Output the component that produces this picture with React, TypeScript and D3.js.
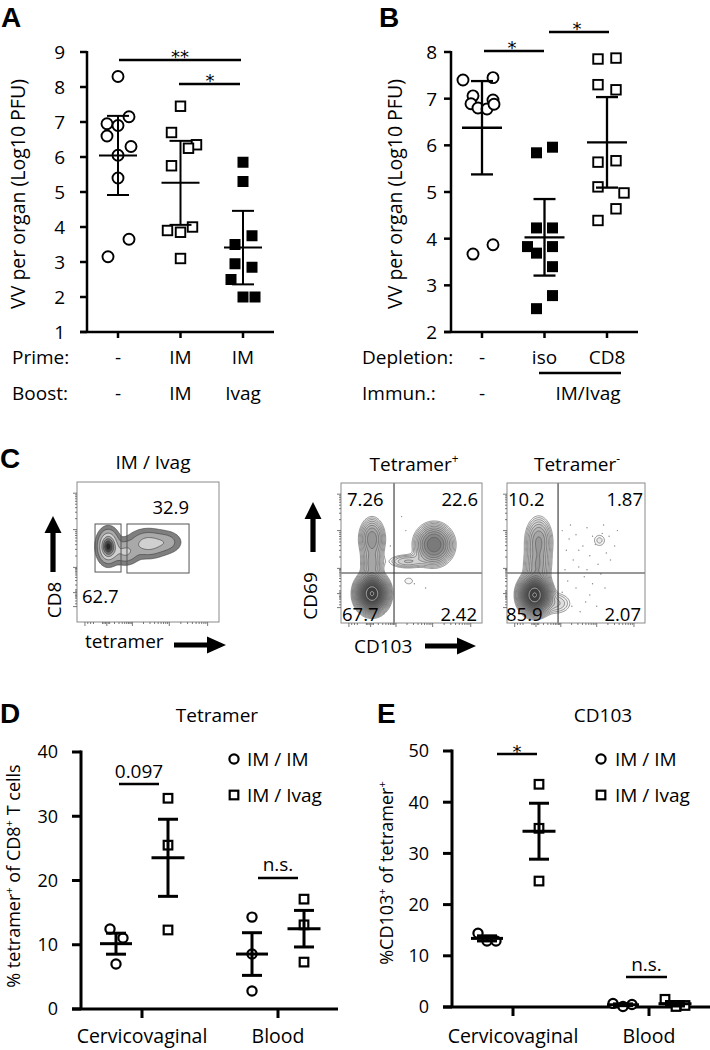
import React from "react";
import * as d3 from "d3";

const FONT = "'Open Sans', Lato, 'DejaVu Sans', sans-serif";
const BOLD = "'Liberation Sans', Arial, sans-serif";

// ---------------- Panel A data ----------------
const aGroups = ["none", "imim", "imivag"];
const aPrime = ["-", "IM", "IM"];
const aBoost = ["-", "IM", "Ivag"];
const aNone = [8.3, 7.15, 6.95, 6.9, 6.6, 6.3, 6.05, 5.4, 3.65, 3.15];
const aImIm = [7.45, 6.7, 6.35, 6.25, 5.75, 4.0, 3.9, 3.85, 3.1];
const aImIvag = [5.85, 5.3, 3.75, 3.5, 2.95, 2.85, 2.5, 2.0, 2.0];
const aCI95 = [1.13, 1.2, 1.05];
const aYTicks = [1, 2, 3, 4, 5, 6, 7, 8, 9];
const aSigLabels = ["**", "*"];
// jitter (layout, px)
const aJitter = [
  [0, 11, -11, 0, -11, 13, 0, 0, 11, -10],
  [0, -9, 16, 8, -9, 12, -13, 0, 0],
  [0, 0, 9, -8, -8, 9, -12, 0, 12],
];

// ---------------- Panel B data ----------------
const bGroups = ["none", "iso", "cd8"];
const bDepletion = ["-", "iso", "CD8"];
const bImmun = ["-", "IM/Ivag"];
const bNone = [7.4, 7.45, 7.06, 6.97, 6.89, 6.8, 6.78, 6.88, 3.67, 3.87];
const bIso = [5.84, 5.96, 4.23, 4.23, 3.83, 3.69, 3.83, 3.4, 2.78, 2.5];
const bCD8 = [7.85, 7.87, 7.3, 7.19, 5.64, 5.67, 5.11, 4.98, 4.64, 4.39];
const bCI95 = [1.0, 0.82, 0.97];
const bYTicks = [2, 3, 4, 5, 6, 7, 8];
const bSigLabels = ["*", "*"];
const bJitter = [
  [-19, 11, -9, 11, -11, -4, 5, 12, -9, 11],
  [-8, 8, -8, 8, -17, -8, 8, 8, 8, -8],
  [-9, 9, -9, 9, -9, 9, -9, 17, 9, -9],
];

// ---------------- Panel C data ----------------
const cTitles = ["IM / Ivag", "Tetramer", "Tetramer"];
const cGatePercents = ["32.9", "62.7"];
const cTetPosPercents = ["7.26", "22.6", "67.7", "2.42"];
const cTetNegPercents = ["10.2", "1.87", "85.9", "2.07"];
// populations: [meanX, meanY, sdX, sdY, weight] in axis units 0..1
const cImIvagPops = [
  [0.22, 0.54, 0.036, 0.057, 1],
  [0.5, 0.56, 0.07, 0.049, 0.36],
  [0.34, 0.5, 0.05, 0.045, 0.28],
  [0.63, 0.57, 0.055, 0.04, 0.16],
];
const cTetPosPops = [
  [0.22, 0.21, 0.05, 0.06, 1],
  [0.22, 0.6, 0.045, 0.075, 0.12],
  [0.22, 0.42, 0.04, 0.06, 0.08],
  [0.66, 0.56, 0.065, 0.07, 0.22],
  [0.47, 0.44, 0.08, 0.03, 0.04],
  [0.48, 0.3, 0.04, 0.03, 0.015],
];
const cTetNegPops = [
  [0.2, 0.2, 0.05, 0.06, 1],
  [0.23, 0.58, 0.05, 0.09, 0.1],
  [0.22, 0.4, 0.05, 0.07, 0.08],
  [0.36, 0.14, 0.07, 0.05, 0.03],
  [0.67, 0.59, 0.04, 0.04, 0.018],
];
const cTetPosEvents = [
  [0.12, 0.3], [0.43, 0.76], [0.46, 0.66], [0.52, 0.28], [0.6, 0.25], [0.35, 0.55],
];
const cTetNegEvents = [
  [0.4, 0.66], [0.45, 0.6], [0.43, 0.52], [0.5, 0.63], [0.48, 0.45], [0.55, 0.55],
  [0.58, 0.68], [0.52, 0.4], [0.6, 0.48], [0.62, 0.62], [0.7, 0.7], [0.74, 0.62],
  [0.72, 0.5], [0.78, 0.55], [0.66, 0.42], [0.44, 0.3], [0.5, 0.25], [0.56, 0.33],
  [0.6, 0.2], [0.47, 0.12], [0.53, 0.08], [0.62, 0.28], [0.68, 0.35], [0.57, 0.15],
  [0.42, 0.38], [0.64, 0.56], [0.69, 0.64], [0.75, 0.45], [0.8, 0.66], [0.46, 0.7],
  [0.4, 0.22], [0.58, 0.38], [0.52, 0.52], [0.65, 0.12], [0.71, 0.25],
];
const cImIvagGates = [
  [0.127, 0.357, 0.31, 0.7],
  [0.352, 0.35, 0.789, 0.7],
];
const cQuadrant = [0.376, 0.357];
const cQuadrantNeg = [0.37, 0.357];
const cMajorX = [0.056, 0.21, 0.39, 0.65, 0.92];
const cMajorY = [0.11, 0.21, 0.39, 0.66, 0.92];

// ---------------- Panel D data ----------------
const dCategories = ["Cervicovaginal", "Blood"];
const dImIm = [[12.45, 11.05, 7.0], [14.3, 8.56, 2.8]];
const dImIvag = [[32.8, 25.5, 12.3], [17.1, 13.1, 7.3]];
const dYTicks = [0, 10, 20, 30, 40];
const dSigLabels = ["0.097", "n.s."];
const dJitterImIm = [[-6, 7, 0], [0, 0, 0]];
const dJitterImIvag = [[0, 0, 0], [0, 0, 0]];

// ---------------- Panel E data ----------------
const eCategories = ["Cervicovaginal", "Blood"];
const eImIm = [[14.4, 12.9, 12.9], [0.7, 0.1, 0.5]];
const eImIvag = [[43.5, 34.9, 24.6], [1.5, 0.1, 0.3]];
const eYTicks = [0, 10, 20, 30, 40, 50];
const eSigLabels = ["*", "n.s."];
const eJitterImIm = [[-9, 0, 9], [-10, 0, 9]];
const eJitterImIvag = [[0, 0, 0], [-10, 1, 10]];

const legendLabels = ["IM / IM", "IM / Ivag"];

// ---------------- helpers ----------------
function Marker({ shape, x, y, size, sw }: any) {
  if (shape === "circle")
    return <circle cx={x} cy={y} r={size / 2} fill="#fff" stroke="#000" strokeWidth={sw} />;
  if (shape === "square")
    return <rect x={x - size / 2} y={y - size / 2} width={size} height={size} fill="#fff" stroke="#000" strokeWidth={sw} />;
  return <rect x={x - size / 2} y={y - size / 2} width={size} height={size} fill="#000" />;
}

function ErrBar({ mean, err, cx, y, meanHalf, capHalf, sw }: any) {
  const m = y(mean), lo = y(mean - err), hi = y(mean + err);
  return (
    <g stroke="#000" strokeWidth={sw}>
      <line x1={cx} x2={cx} y1={lo} y2={hi} />
      <line x1={cx - capHalf} x2={cx + capHalf} y1={lo} y2={lo} />
      <line x1={cx - capHalf} x2={cx + capHalf} y1={hi} y2={hi} />
      <line x1={cx - meanHalf} x2={cx + meanHalf} y1={m} y2={m} />
    </g>
  );
}

function sem(v: number[]) {
  return (d3.deviation(v) as number) / Math.sqrt(v.length);
}

function Sup({ children }: any) {
  return (
    <tspan baselineShift="super" fontSize="0.62em">
      {children}
    </tspan>
  );
}

function Star({ x, y, label }: any) {
  return (
    <text x={x} y={y} textAnchor="middle" fontSize={18} fontFamily="'DejaVu Sans', sans-serif">{label}</text>
  );
}

function ArrowUp({ cx, bottom, tip }: any) {
  const hw = 2.6, hh = 8.5, hl = 17;
  const d = `M${cx - hw},${bottom} L${cx - hw},${tip + hl} L${cx - hh},${tip + hl} L${cx},${tip} L${cx + hh},${tip + hl} L${cx + hw},${tip + hl} L${cx + hw},${bottom} Z`;
  return <path d={d} fill="#000" />;
}
function ArrowRight({ cy, left, tip }: any) {
  const hw = 2.6, hh = 8.5, hl = 19;
  const d = `M${left},${cy - hw} L${tip - hl},${cy - hw} L${tip - hl},${cy - hh} L${tip},${cy} L${tip - hl},${cy + hh} L${tip - hl},${cy + hw} L${left},${cy + hw} Z`;
  return <path d={d} fill="#000" />;
}

// ---------------- Panel A ----------------
function PanelA() {
  const y = d3.scaleLinear().domain([1, 9]).range([332, 52]);
  const x = d3.scalePoint<string>().domain(aGroups).range([118, 243]);
  const groups = [aNone, aImIm, aImIvag];
  const shapes = ["circle", "square", "filled"];
  const axisX = 87;
  return (
    <g>
      <text x={1} y={27} fontFamily={BOLD} fontWeight="bold" fontSize={28}>A</text>
      <text transform={`translate(25,194) rotate(-90)`} textAnchor="middle" fontSize={19.5}>VV per organ (Log10 PFU)</text>
      <g stroke="#000" strokeWidth={2.5}>
        <line x1={axisX} x2={axisX} y1={y(9) - 1} y2={y(1)} />
        <line x1={80} x2={274} y1={y(1)} y2={y(1)} />
        {aYTicks.map((t) => <line key={t} x1={80} x2={axisX} y1={y(t)} y2={y(t)} />)}
        {aGroups.map((g) => <line key={g} x1={x(g)} x2={x(g)} y1={y(1)} y2={y(1) + 6} />)}
      </g>
      {aYTicks.map((t) => (
        <text key={t} x={65} y={y(t)} dy="0.36em" textAnchor="end" fontSize={19}>{t}</text>
      ))}
      {groups.map((vals, gi) => (
        <g key={gi}>
          {vals.map((v, i) => (
            <Marker key={i} shape={shapes[gi]} x={(x(aGroups[gi]) as number) + aJitter[gi][i]} y={y(v)}
              size={shapes[gi] === "circle" ? 11 : shapes[gi] === "square" ? 9.5 : 11} sw={1.9} />
          ))}
          <ErrBar mean={d3.mean(vals)} err={aCI95[gi]} cx={x(aGroups[gi])} y={y} meanHalf={19} capHalf={11} sw={2} />
        </g>
      ))}
      <g stroke="#000" strokeWidth={2.5}>
        <line x1={119} x2={241} y1={60} y2={60} />
        <line x1={179} x2={240} y1={84} y2={84} />
      </g>
      <Star x={180} y={63} label={aSigLabels[0]} />
      <Star x={210} y={87} label={aSigLabels[1]} />
      <text x={12} y={364} fontSize={19}>Prime:</text>
      <text x={12} y={400} fontSize={19}>Boost:</text>
      {aGroups.map((g, i) => (
        <g key={g}>
          <text x={x(g)} y={364} textAnchor="middle" fontSize={19}>{aPrime[i]}</text>
          <text x={x(g)} y={400} textAnchor="middle" fontSize={19}>{aBoost[i]}</text>
        </g>
      ))}
    </g>
  );
}

// ---------------- Panel B ----------------
function PanelB() {
  const y = d3.scaleLinear().domain([2, 8]).range([332, 52]);
  const x = d3.scalePoint<string>().domain(bGroups).range([482, 607]);
  const groups = [bNone, bIso, bCD8];
  const shapes = ["circle", "filled", "square"];
  const axisX = 451;
  return (
    <g>
      <text x={379} y={27} fontFamily={BOLD} fontWeight="bold" fontSize={28}>B</text>
      <text transform={`translate(402,194) rotate(-90)`} textAnchor="middle" fontSize={19.5}>VV per organ (Log10 PFU)</text>
      <g stroke="#000" strokeWidth={2.5}>
        <line x1={axisX} x2={axisX} y1={y(8) - 1} y2={y(2)} />
        <line x1={444} x2={638} y1={y(2)} y2={y(2)} />
        {bYTicks.map((t) => <line key={t} x1={444} x2={axisX} y1={y(t)} y2={y(t)} />)}
        {bGroups.map((g) => <line key={g} x1={x(g)} x2={x(g)} y1={y(2)} y2={y(2) + 6} />)}
      </g>
      {bYTicks.map((t) => (
        <text key={t} x={437} y={y(t)} dy="0.36em" textAnchor="end" fontSize={19}>{t}</text>
      ))}
      {groups.map((vals, gi) => (
        <g key={gi}>
          {vals.map((v, i) => (
            <Marker key={i} shape={shapes[gi]} x={(x(bGroups[gi]) as number) + bJitter[gi][i]} y={y(v)}
              size={shapes[gi] === "circle" ? 11 : shapes[gi] === "square" ? 9.5 : 11} sw={1.9} />
          ))}
          <ErrBar mean={d3.mean(vals)} err={bCI95[gi]} cx={x(bGroups[gi])} y={y} meanHalf={20} capHalf={11} sw={2.3} />
        </g>
      ))}
      <g stroke="#000" strokeWidth={2.5}>
        <line x1={484} x2={544} y1={51} y2={51} />
        <line x1={549} x2={609} y1={32} y2={32} />
      </g>
      <Star x={512} y={54} label={bSigLabels[0]} />
      <Star x={577} y={35} label={bSigLabels[1]} />
      <text x={362} y={364} fontSize={19}>Depletion:</text>
      <text x={362} y={400} fontSize={19}>Immun.:</text>
      {bGroups.map((g, i) => (
        <text key={g} x={x(g)} y={364} textAnchor="middle" fontSize={19}>{bDepletion[i]}</text>
      ))}
      <line x1={539} x2={621} y1={373} y2={373} stroke="#000" strokeWidth={2.5} />
      <text x={x("none")} y={400} textAnchor="middle" fontSize={19}>{bImmun[0]}</text>
      <text x={588} y={400} textAnchor="middle" fontSize={19}>{bImmun[1]}</text>
    </g>
  );
}

// ---------------- Flow plot ----------------
const GRID = 120;
function densityContours(pops: number[][], levels: number[]) {
  const values: number[] = new Array(GRID * GRID);
  for (let j = 0; j < GRID; j++) {
    const v = 1 - (j + 0.5) / GRID;
    for (let i = 0; i < GRID; i++) {
      const u = (i + 0.5) / GRID;
      let s = 0;
      for (const p of pops) {
        const dx = (u - p[0]) / p[2], dy = (v - p[1]) / p[3];
        s += p[4] * Math.exp(-0.5 * (dx * dx + dy * dy));
      }
      values[j * GRID + i] = s;
    }
  }
  const max = d3.max(values) as number;
  return d3.contours().size([GRID, GRID]).thresholds(levels.map((l) => l * max))(values);
}

const zebraLevels = [0.03, 0.1, 0.25, 0.45, 0.62, 0.78, 0.92];
const zebraFills = ["#7f7f7f", "#a9a9a9", "#d0d0d0", "#a3a3a3", "#777777", "#4a4a4a", "#262626"];
const lineLevels = d3.range(16).map((i) => 0.012 * Math.pow(0.97 / 0.012, i / 15));

function minorTicks(major: number[]) {
  const out: number[] = [];
  for (let k = 2; k < major.length - 1; k++) {
    const a = major[k], b = major[k + 1];
    for (let m = 2; m <= 9; m++) out.push(a + (b - a) * Math.log10(m));
  }
  const a = major[1], b = major[2];
  for (let m = 2; m <= 9; m++) out.push(a + (b - a) * Math.log10(m));
  const z = major[1];
  [-0.03, -0.02, -0.01, 0.01, 0.02].forEach((d) => out.push(z + d));
  const n = major[0];
  [0.02, 0.04, 0.06].forEach((d) => out.push(n + d));
  return out;
}

function FlowPlot({ x0, y0, w, h, pops, mode, quadrant, gates, events }: any) {
  const xs = d3.scaleLinear().domain([0, 1]).range([x0, x0 + w]);
  const ys = d3.scaleLinear().domain([0, 1]).range([y0 + h, y0]);
  const levels = mode === "zebra" ? zebraLevels : lineLevels;
  const contours = densityContours(pops, levels);
  const proj = d3.geoTransform({
    point: function (this: any, px: number, py: number) {
      this.stream.point(x0 + (px * w) / GRID, y0 + (py * h) / GRID);
    },
  });
  const path = d3.geoPath(proj);
  const minX = minorTicks(cMajorX), minY = minorTicks(cMajorY);
  const n = contours.length;
  return (
    <g>
      {contours.map((c, i) =>
        mode === "zebra" ? (
          <path key={i} d={path(c as any) || ""} fill={zebraFills[i]} stroke="#3a3a3a" strokeWidth={0.6} />
        ) : (
          <path key={i} d={path(c as any) || ""} fill="#000" fillOpacity={0.035 + 0.11 * (i / (n - 1))}
            stroke={i > n - 3 ? "#ddd" : "#555"} strokeWidth={0.6} />
        )
      )}
      {(events || []).map((e: number[], i: number) => (
        <circle key={i} cx={xs(e[0])} cy={ys(e[1])} r={0.7} fill="#888" />
      ))}
      {quadrant && (
        <g stroke="#333" strokeWidth={1.1}>
          <line x1={xs(quadrant[0])} x2={xs(quadrant[0])} y1={y0} y2={y0 + h} />
          <line x1={x0} x2={x0 + w} y1={ys(quadrant[1])} y2={ys(quadrant[1])} />
        </g>
      )}
      {(gates || []).map((g: number[], i: number) => (
        <rect key={i} x={xs(g[0])} y={ys(g[3])} width={xs(g[2]) - xs(g[0])} height={ys(g[1]) - ys(g[3])}
          fill="none" stroke="#555" strokeWidth={1} />
      ))}
      <rect x={x0} y={y0} width={w} height={h} fill="none" stroke="#8a8a8a" strokeWidth={1} />
      <g stroke="#555" strokeWidth={0.8}>
        {cMajorY.map((t, i) => <line key={"ym" + i} x1={x0 - 4} x2={x0} y1={ys(t)} y2={ys(t)} />)}
        {minY.map((t, i) => <line key={"yn" + i} x1={x0 - 2} x2={x0} y1={ys(t)} y2={ys(t)} />)}
        {cMajorX.map((t, i) => <line key={"xm" + i} x1={xs(t)} x2={xs(t)} y1={y0 + h} y2={y0 + h + 4} />)}
        {minX.map((t, i) => <line key={"xn" + i} x1={xs(t)} x2={xs(t)} y1={y0 + h} y2={y0 + h + 2} />)}
      </g>
    </g>
  );
}

function PanelC() {
  const fs = 18.5;
  return (
    <g>
      <text x={0} y={468} fontFamily={BOLD} fontWeight="bold" fontSize={28}>C</text>
      <text x={153} y={469} textAnchor="middle" fontSize={19}>{cTitles[0]}</text>
      <text x={414} y={471} textAnchor="middle" fontSize={19}>{cTitles[1]}<Sup>+</Sup></text>
      <text x={577} y={471} textAnchor="middle" fontSize={19}>{cTitles[2]}<Sup>-</Sup></text>

      <FlowPlot x0={77} y0={482} w={142} h={140} pops={cImIvagPops} mode="zebra" gates={cImIvagGates} />
      <text x={189} y={514} textAnchor="end" fontSize={fs}>{cGatePercents[0]}</text>
      <text x={82} y={603} fontSize={fs}>{cGatePercents[1]}</text>
      <ArrowUp cx={53} bottom={572} tip={516} />
      <text transform="translate(61,600) rotate(-90)" textAnchor="middle" fontSize={19}>CD8</text>
      <text x={85} y={648} fontSize={19}>tetramer</text>
      <ArrowRight cy={645} left={174} tip={226} />

      <FlowPlot x0={341} y0={483} w={141} h={140} pops={cTetPosPops} mode="lines" quadrant={cQuadrant} events={cTetPosEvents} />
      <text x={347} y={506} fontSize={fs}>{cTetPosPercents[0]}</text>
      <text x={478} y={506} textAnchor="end" fontSize={fs}>{cTetPosPercents[1]}</text>
      <text x={342} y={621} fontSize={fs}>{cTetPosPercents[2]}</text>
      <text x={477} y={621} textAnchor="end" fontSize={fs}>{cTetPosPercents[3]}</text>

      <FlowPlot x0={507} y0={483} w={138} h={140} pops={cTetNegPops} mode="lines" quadrant={cQuadrantNeg} events={cTetNegEvents} />
      <text x={508} y={506} fontSize={fs}>{cTetNegPercents[0]}</text>
      <text x={643} y={506} textAnchor="end" fontSize={fs}>{cTetNegPercents[1]}</text>
      <text x={506} y={621} fontSize={fs}>{cTetNegPercents[2]}</text>
      <text x={641} y={621} textAnchor="end" fontSize={fs}>{cTetNegPercents[3]}</text>

      <ArrowUp cx={313} bottom={552} tip={502} />
      <text transform="translate(317,596) rotate(-90)" textAnchor="middle" fontSize={19}>CD69</text>
      <text x={354} y={653} fontSize={19}>CD103</text>
      <ArrowRight cy={646} left={425} tip={476} />
    </g>
  );
}

// ---------------- Panels D & E ----------------
function Legend({ x, y1, y2, tx }: any) {
  return (
    <g>
      <circle cx={x} cy={y1} r={4.6} fill="#fff" stroke="#000" strokeWidth={2.2} />
      <text x={tx} y={y1 + 7} fontSize={19}>{legendLabels[0]}</text>
      <rect x={x - 4.3} y={y2 - 4.3} width={8.6} height={8.6} fill="#fff" stroke="#000" strokeWidth={2.2} />
      <text x={tx} y={y2 + 7} fontSize={19}>{legendLabels[1]}</text>
    </g>
  );
}

function GroupedPanel({ letter, letterX, letterY, title, titleX, axisX, xStart, xEnd, y, yTicks, cats, catRange, imim, imivag, jImIm, jImIvag, yLabel, yLabelX, yLabelY, yLabelSize, legendX, legendTx, sigs }: any) {
  const x = d3.scalePoint<string>().domain(cats).range(catRange);
  const y0 = y(0);
  return (
    <g>
      <text x={letterX} y={letterY} fontFamily={BOLD} fontWeight="bold" fontSize={28}>{letter}</text>
      <text x={titleX} y={722} textAnchor="middle" fontSize={19}>{title}</text>
      <text transform={`translate(${yLabelX},${yLabelY}) rotate(-90)`} textAnchor="middle" fontSize={yLabelSize}>{yLabel}</text>
      <g stroke="#000" strokeWidth={3}>
        <line x1={axisX} x2={axisX} y1={y(yTicks[yTicks.length - 1]) - 1.5} y2={y0} />
        <line x1={xStart} x2={xEnd} y1={y0} y2={y0} />
        {yTicks.map((t: number) => <line key={t} x1={xStart} x2={axisX} y1={y(t)} y2={y(t)} />)}
        {cats.map((c: string) => <line key={c} x1={x(c)} x2={x(c)} y1={y0} y2={y0 + 9} />)}
      </g>
      {yTicks.map((t: number) => (
        <text key={t} x={axisX - 23} y={y(t)} dy="0.36em" textAnchor="end" fontSize={18}>{t}</text>
      ))}
      {cats.map((c: string) => (
        <text key={c} x={x(c)} y={1043} textAnchor="middle" fontSize={19.5}>{c}</text>
      ))}
      {cats.map((c: string, ci: number) => {
        const cx1 = (x(c) as number) - 26, cx2 = (x(c) as number) + 26;
        return (
          <g key={c}>
            {imim[ci].map((v: number, i: number) => (
              <Marker key={"a" + i} shape="circle" x={cx1 + jImIm[ci][i]} y={y(v)} size={9.2} sw={2.2} />
            ))}
            {imivag[ci].map((v: number, i: number) => (
              <Marker key={"b" + i} shape="square" x={cx2 + jImIvag[ci][i]} y={y(v)} size={8.6} sw={2.2} />
            ))}
            <ErrBar mean={d3.mean(imim[ci])} err={sem(imim[ci])} cx={cx1} y={y} meanHalf={16} capHalf={10} sw={3} />
            <ErrBar mean={d3.mean(imivag[ci])} err={sem(imivag[ci])} cx={cx2} y={y} meanHalf={16.5} capHalf={10} sw={3} />
          </g>
        );
      })}
      <Legend x={legendX} y1={759} y2={795} tx={legendTx} />
      {sigs.map((s: any, i: number) => (
        <g key={i}>
          <line x1={s.x1} x2={s.x2} y1={s.y} y2={s.y} stroke="#000" strokeWidth={2.6} />
          {s.star ? (
            <Star x={(s.x1 + s.x2) / 2} y={s.ty} label={s.label} />
          ) : (
            <text x={(s.x1 + s.x2) / 2} y={s.ty} textAnchor="middle" fontSize={19}>{s.label}</text>
          )}
        </g>
      ))}
    </g>
  );
}

function PanelD() {
  const y = d3.scaleLinear().domain([0, 40]).range([1009, 752]);
  return (
    <GroupedPanel letter="D" letterX={0} letterY={723} title="Tetramer" titleX={217}
      axisX={81} xStart={72} xEnd={338} y={y} yTicks={dYTicks} cats={dCategories} catRange={[142, 278]}
      imim={dImIm} imivag={dImIvag} jImIm={dJitterImIm} jImIvag={dJitterImIvag}
      yLabel={<>% tetramer<Sup>+</Sup> of CD8<Sup>+</Sup> T cells</>} yLabelX={20} yLabelY={876} yLabelSize={18}
      legendX={234} legendTx={247}
      sigs={[
        { x1: 119, x2: 159, y: 784, ty: 778, label: dSigLabels[0] },
        { x1: 258, x2: 298, y: 878, ty: 871, label: dSigLabels[1] },
      ]} />
  );
}

function PanelE() {
  const y = d3.scaleLinear().domain([0, 50]).range([1007, 751]);
  return (
    <GroupedPanel letter="E" letterX={377} letterY={723} title="CD103" titleX={603}
      axisX={452} xStart={443} xEnd={710} y={y} yTicks={eYTicks} cats={eCategories} catRange={[513, 649]}
      imim={eImIm} imivag={eImIvag} jImIm={eJitterImIm} jImIvag={eJitterImIvag}
      yLabel={<>%CD103<Sup>+</Sup> of tetramer<Sup>+</Sup></>} yLabelX={393} yLabelY={873} yLabelSize={18}
      legendX={601} legendTx={615}
      sigs={[
        { x1: 497, x2: 537, y: 754, ty: 758, label: eSigLabels[0], star: true },
        { x1: 626, x2: 667, y: 977, ty: 971, label: eSigLabels[1] },
      ]} />
  );
}

export default function App() {
  return (
    <div style={{ position: "absolute", left: 0, top: 0 }}>
      <svg width={710} height={1050} viewBox="0 0 710 1050" style={{ display: "block", background: "#fff" }} fontFamily={FONT}>
        <PanelA />
        <PanelB />
        <PanelC />
        <PanelD />
        <PanelE />
      </svg>
    </div>
  );
}
